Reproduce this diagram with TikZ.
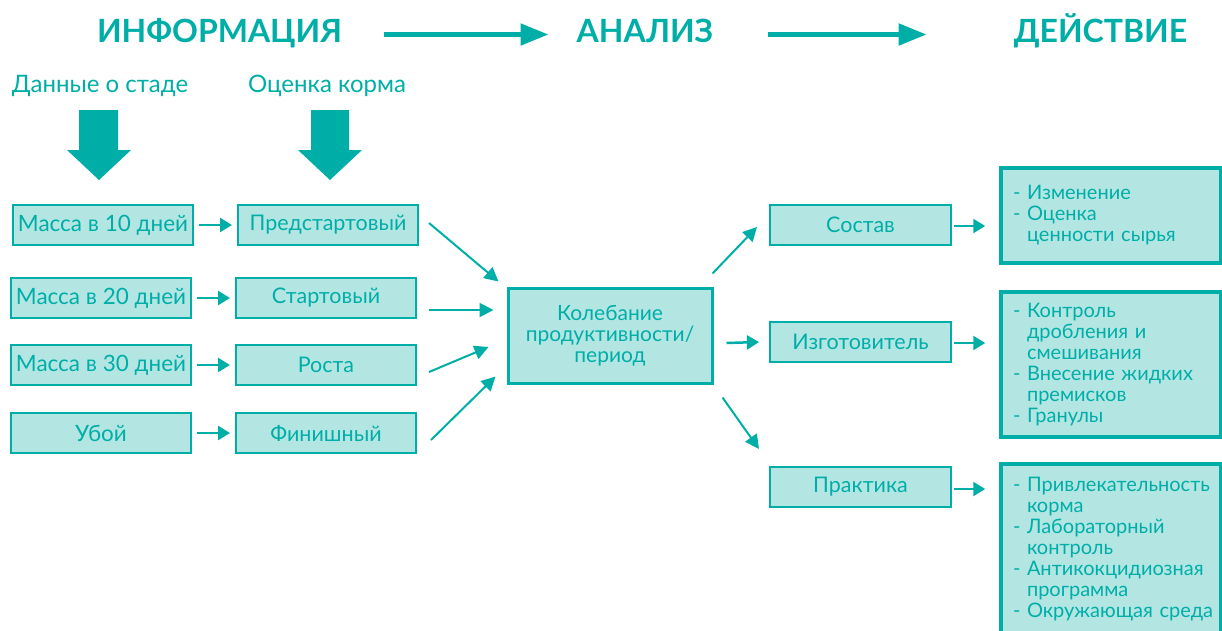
\documentclass[tikz,border=0pt]{standalone}
\usepackage{fontspec}
\setmainfont{Lato}
\usetikzlibrary{arrows.meta}
\definecolor{teal1}{HTML}{00AEA8}
\definecolor{fill1}{HTML}{B3E6E3}
\newcommand\itm[1]{\mbox{\makebox[14pt][l]{-}#1}}
\newcommand\cnt[1]{\mbox{\hspace*{14pt}#1}}
\begin{document}
\begin{tikzpicture}[x=1pt,y=-1pt,
  head/.style={font=\bfseries\fontsize{32}{32}\selectfont, text=teal1, inner sep=0pt, text height=23pt, text depth=8pt, anchor=base},
  sub/.style={font=\fontsize{24}{24}\selectfont, text=teal1, anchor=base, inner sep=0pt},
  sbox/.style={draw=teal1, fill=fill1, line width=2pt, minimum width=180pt, minimum height=40pt, inner sep=0pt, text=teal1, font=\fontsize{22.5}{22.5}\selectfont},
  mbox/.style={sbox, font=\fontsize{21.5}{21.5}\selectfont},
  cbox/.style={draw=teal1, fill=fill1, line width=3pt, minimum width=204pt, minimum height=95pt, align=center, text=teal1, font=\fontsize{21}{21}\selectfont},
  dbox/.style={draw=teal1, fill=fill1, line width=3.5pt, inner xsep=12pt, inner ysep=0pt, text width=196pt, align=left, text=teal1, font=\fontsize{20}{21}\selectfont},
  arr/.style={draw=teal1, line width=2.5pt, -{Triangle[length=12pt,width=14pt]}},
  darr/.style={draw=teal1, line width=2pt, -{Triangle[length=14pt,width=14pt]}},
  bigarr/.style={draw=teal1, line width=5pt, -{Triangle[length=28pt,width=21pt]}},
  blk/.style={fill=teal1}
]
\useasboundingbox (0,0) rectangle (1222,630);
\clip (0,0) rectangle (1222,630);

% headings
\node[head] (H1) at (219.5,42) {ИНФОРМАЦИЯ};
\node[head] (H2) at (645,42) {АНАЛИЗ};
\node[head] (H3) at (1100.5,42) {ДЕЙСТВИЕ};
\draw[bigarr, shorten <=42pt, shorten >=28pt] (H1.east) -- (H2.west);
\draw[bigarr, shorten <=55pt, shorten >=87pt] (H2.east) -- (H3.west);

% sub headings
\node[sub] (S1) at (100,92) {Данные о стаде};
\node[sub] (S2) at (327,92) {Оценка корма};

% block arrows
\fill[blk] (79,110) -- (118,110) -- (118,150) -- (131,150) -- (99,180) -- (67,150) -- (79,150) -- cycle;
\fill[blk] (311,110) -- (349,110) -- (349,150) -- (362,150) -- (330,180) -- (298,150) -- (311,150) -- cycle;

% left boxes
\node[sbox] (L1) at (103,225) {Масса в 10 дней};
\node[sbox] (L2) at (101,298) {Масса в 20 дней};
\node[sbox] (L3) at (101,365) {Масса в 30 дней};
\node[sbox] (L4) at (101,433) {Убой};
\node[mbox] (M1) at (328,225) {Предстартовый};
\node[mbox] (M2) at (326,298) {Стартовый};
\node[mbox] (M3) at (326,365) {Роста};
\node[mbox] (M4) at (326,433) {Финишный};

\foreach \i in {1,2,3,4} {
  \draw[arr, shorten <=5pt, shorten >=5pt] (L\i.east) -- (M\i.west);
}

% central box
\node[cbox] (C) at (610,335.5) {Колебание\\продуктивности/\\период};

\draw[darr] ([xshift=10pt,yshift=2pt]M1.east) -- ([xshift=-8pt,yshift=5pt]C.north west);
\draw[darr] ([xshift=12pt,yshift=-12pt]M2.east) -- ([xshift=-13pt,yshift=25.5pt]C.west);
\draw[darr] ([xshift=12pt,yshift=-7pt]M3.east) -- ([xshift=-18pt,yshift=-11.5pt]C.west);
\draw[darr] ([xshift=14pt,yshift=-7pt]M4.east) -- ([xshift=-11pt,yshift=8pt]C.south west);

% right small boxes
\node[mbox, minimum width=181pt] (R1) at (860.5,225) {Состав};
\node[mbox, minimum width=181pt] (R2) at (860.5,342) {Изготовитель};
\node[mbox, minimum width=181pt] (R3) at (860.5,487) {Практика};

\draw[darr] ([xshift=-1pt,yshift=13pt]C.north east) -- ([xshift=-12pt,yshift=-2pt]R1.west);
\draw[arr] ([xshift=13pt,yshift=-7.5pt]C.east) -- ([xshift=-10pt]R2.west);
\draw[darr] ([xshift=9pt,yshift=-13pt]C.south east) -- ([xshift=-10pt,yshift=17pt]R3.north west);

% action boxes
\node[dbox, minimum height=95pt] (D1) at (1111,215.5) {\itm{Изменение}\\\itm{Оценка}\\\cnt{ценности сырья}};
\node[dbox, minimum height=145pt] (D2) at (1111,364.5) {\itm{Контроль}\\\cnt{дробления и}\\\cnt{смешивания}\\\itm{Внесение жидких}\\\cnt{премисков}\\\itm{Гранулы}};
\node[dbox, minimum height=170pt] (D3) at (1111,549) {\itm{Привлекательность}\\\cnt{корма}\\\itm{Лабораторный}\\\cnt{контроль}\\\itm{Антикокцидиозная}\\\cnt{программа}\\\itm{Окружающая среда}};

\draw[arr, shorten <=2pt, shorten >=14pt] ([yshift=-1pt]R1.east) -- ([yshift=-1pt]R1.east -| D1.west);
\draw[arr, shorten <=2pt, shorten >=14pt] ([yshift=-1pt]R2.east) -- ([yshift=-1pt]R2.east -| D2.west);
\draw[arr, shorten <=2pt, shorten >=14pt] ([yshift=-2pt]R3.east) -- ([yshift=-2pt]R3.east -| D3.west);
\end{tikzpicture}
\end{document}
